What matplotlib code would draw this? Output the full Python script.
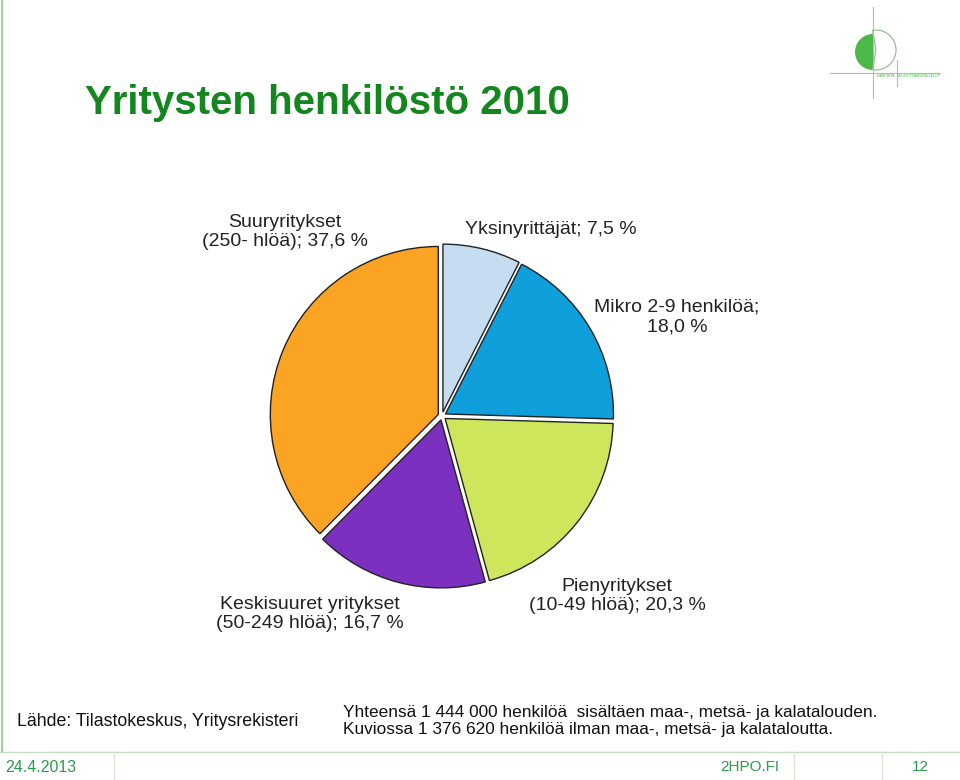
import matplotlib
matplotlib.use("Agg")
import matplotlib.pyplot as plt
from matplotlib.patches import Circle, Wedge
from matplotlib.lines import Line2D

plt.rcParams['font.family'] = ['Liberation Sans', 'DejaVu Sans']

categories = ["Yksinyrittäjät", "Mikro 2-9 henkilöä", "Pienyritykset (10-49 hlöä)",
              "Keskisuuret yritykset (50-249 hlöä)", "Suuryritykset (250- hlöä)"]
values = [7.5, 18.0, 20.3, 16.7, 37.6]
colors = ["#C6DCF1", "#0F9FDB", "#CEE65B", "#7B30BF", "#FBA322"]
labels = ["Yksinyrittäjät; 7,5 %", "Mikro 2-9 henkilöä;\n18,0 %", "Pienyritykset\n(10-49 hlöä); 20,3 %",
          "Keskisuuret yritykset\n(50-249 hlöä); 16,7 %", "Suuryritykset\n(250- hlöä); 37,6 %"]

W, H = 960, 780
fig = plt.figure(figsize=(9.6, 7.8), dpi=100)
ax = fig.add_axes([0, 0, 1, 1])

def Y(y):
    return H - y

# Pie
cx, cy, r = 442, 416, 168
ax.pie(values, colors=colors, startangle=90, counterclock=False,
       center=(cx, Y(cy)), radius=r, explode=[4] * len(values),
       wedgeprops=dict(edgecolor="#222222", linewidth=1.0), frame=True)
ax.set_xlim(0, W)
ax.set_ylim(0, H)
ax.set_aspect('auto')
ax.axis('off')

lab_pos = [(465, 229, 'left'), (677, 317, 'center'), (617, 596, 'center'),
           (310, 614, 'center'), (285, 232, 'center')]
for (x, y, ha), t in zip(lab_pos, labels):
    ax.text(x, Y(y), t, ha=ha, va='center', fontsize=14, color='#222222', linespacing=1.2)

# Title
ax.text(85, Y(103), "Yritysten henkilöstö 2010", fontsize=29, fontweight='bold',
        color='#13861E', ha='left', va='center')

# Bottom texts
ax.text(17, Y(722), "Lähde: Tilastokeskus, Yritysrekisteri", fontsize=12.8, ha='left', va='center', color='#111111')
ax.text(343, Y(721), "Yhteensä 1 444 000 henkilöä  sisältäen maa-, metsä- ja kalatalouden.\n"
        "Kuviossa 1 376 620 henkilöä ilman maa-, metsä- ja kalataloutta.",
        fontsize=12.4, ha='left', va='center', color='#111111', linespacing=1.15)

# Frame lines
ax.add_line(Line2D([1.5, 1.5], [Y(0), Y(752)], color='#A8CF96', lw=1.5))
ax.add_line(Line2D([0, W], [Y(752), Y(752)], color='#C8DEC0', lw=1))
for xs in [114, 794, 882]:
    ax.add_line(Line2D([xs, xs], [Y(752), Y(780)], color='#D8E6D2', lw=1))
ax.text(5, Y(767), "24.4.2013", fontsize=11.5, color='#2C9A4A', ha='left', va='center')
ax.text(750, Y(767), "2HPO.FI", fontsize=11, color='#2C9A4A', ha='center', va='center')
ax.text(920, Y(767), "12", fontsize=11, color='#2C9A4A', ha='center', va='center')

# Logo
ax.add_patch(Wedge((873, Y(52)), 18, 90, 270, facecolor='#4CB848', edgecolor='none'))
ax.add_patch(Wedge((876, Y(50)), 20, -100, 100, facecolor='none', edgecolor='#8DB88A', lw=0.8))
ax.add_line(Line2D([873, 873], [Y(7), Y(98)], color='#A0C89C', lw=0.8))
ax.add_line(Line2D([830, 940], [Y(73), Y(73)], color='#A0C89C', lw=0.8))
ax.add_line(Line2D([897, 897], [Y(60), Y(86)], color='#A0C89C', lw=0.8))
ax.text(908, Y(76), "HARKINTA- JA KEHITTÄMISPALVELUT", fontsize=2.5, color='#4CB848', ha='center', va='center')

fig.savefig("out.png", dpi=100)
